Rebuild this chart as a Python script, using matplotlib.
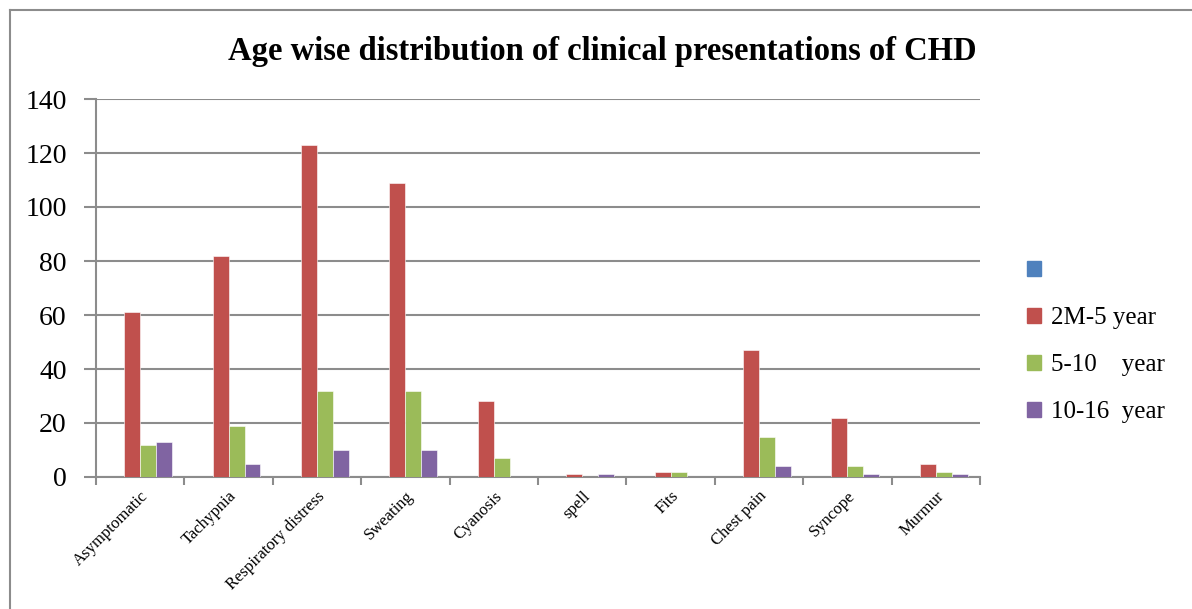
import numpy as np
import matplotlib
matplotlib.use("Agg")
import matplotlib.pyplot as plt
from matplotlib.lines import Line2D

categories = ["Asymptomatic", "Tachypnia", "Respiratory distress", "Sweating",
              "Cyanosis", "spell", "Fits", "Chest pain", "Syncope", "Murmur"]
blank = [0, 0, 0, 0, 0, 0, 0, 0, 0, 0]
age_2m_5 = [61, 82, 123, 109, 28, 1, 2, 47, 22, 5]
age_5_10 = [12, 19, 32, 32, 7, 0, 2, 15, 4, 2]
age_10_16 = [13, 5, 10, 10, 0, 1, 0, 4, 1, 1]
series_names = ["", "2M-5 year", "5-10    year", "10-16  year"]
colors = ["#4F81BD", "#C0504D", "#9BBB59", "#8064A2"]

plt.rcParams['font.family'] = ['Liberation Serif', 'DejaVu Serif']

fig = plt.figure(figsize=(11.92, 6.09), dpi=100)
ax = fig.add_axes([96/1192, 1-477/609, (980-96)/1192, (477-99)/609])

x = np.arange(len(categories))
w = 0.18
all_series = [blank, age_2m_5, age_5_10, age_10_16]
for i, (vals, c) in enumerate(zip(all_series, colors)):
    ax.bar(x + (i - 1.5) * w, vals, w, color=c, edgecolor="white", linewidth=0.4, zorder=3)

ax.set_xlim(-0.5, len(categories) - 0.5)
ax.set_ylim(0, 140)
ax.set_yticks(range(0, 141, 20))
ax.yaxis.grid(True, color="#8c8c8c", linewidth=1.5, zorder=0)
for s in ["top", "right"]:
    ax.spines[s].set_visible(False)
for s in ["left", "bottom"]:
    ax.spines[s].set_color("#8c8c8c")
    ax.spines[s].set_linewidth(1.5)

ax.set_xticks(np.arange(len(categories) + 1) - 0.5)
ax.set_xticklabels([])
ax.set_xticks(x, minor=True)
ax.set_xticklabels(categories, minor=True, rotation=45, ha="right",
                   rotation_mode="anchor", fontsize=12)
ax.tick_params(axis="x", which="minor", length=0, pad=8)
ax.tick_params(axis="x", which="major", length=6, color="#8c8c8c", width=1.5)
ax.tick_params(axis="y", length=9, color="#8c8c8c", width=1.5, labelsize=20, pad=12)

fig.text(0.505, 0.915, "Age wise distribution of clinical presentations of CHD",
         ha="center", va="center", fontsize=23.5, fontweight="bold")

handles = [plt.Rectangle((0, 0), 1, 1, color=c) for c in colors]
fig.legend(handles, series_names, loc="upper left", bbox_to_anchor=(0.843, 0.61),
           frameon=False, fontsize=18, handlelength=0.55, handleheight=0.55,
           handletextpad=0.4, labelspacing=1.0)

# outer chart border (top and left edges visible in the crop)
fig.add_artist(Line2D([10/1192, 10/1192], [0, 1-10/609], color="#8c8c8c", linewidth=1.5))
fig.add_artist(Line2D([10/1192, 1], [1-10/609, 1-10/609], color="#8c8c8c", linewidth=1.5))

fig.savefig("out.png", dpi=100)
